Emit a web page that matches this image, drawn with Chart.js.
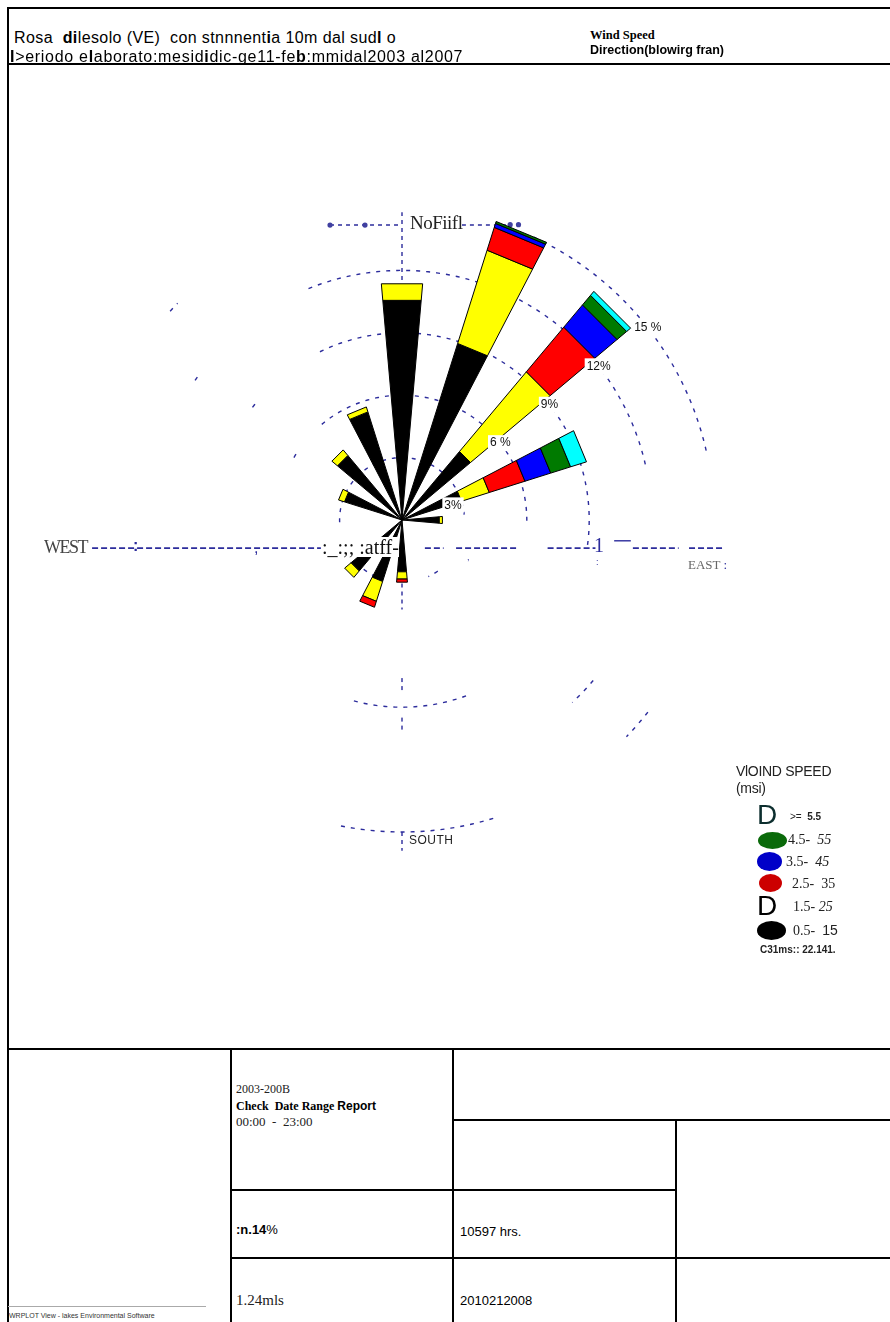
<!DOCTYPE html>
<html>
<head>
<meta charset="utf-8">
<script src="https://cdn.jsdelivr.net/npm/chart.js@4.4.1/dist/chart.umd.min.js"></script>
<style>
  body { margin: 0; background: #fff; }
  #page { position: relative; width: 890px; height: 1322px; overflow: hidden; font-family: "Liberation Sans", Arial, sans-serif; }
  #rose { position: absolute; left: 10px; top: 64px; }
  .t { position: absolute; white-space: nowrap; line-height: 1; }
  .ln { position: absolute; background: #000; }
  .serif { font-family: "Liberation Serif", "Times New Roman", serif; }
  .blue { color: #2c2c9c; }
  .ell { position: absolute; border-radius: 50%; }
</style>
</head>
<body>
<div id="page">
  <canvas id="rose" width="880" height="984"></canvas>

  <!-- frame -->
  <div class="ln" style="left:8px;top:7px;width:882px;height:2px"></div>
  <div class="ln" style="left:7px;top:7px;width:2px;height:1315px"></div>
  <div class="ln" style="left:8px;top:63px;width:882px;height:1.5px"></div>
  <div class="ln" style="left:8px;top:1048px;width:882px;height:2px"></div>
  <div class="ln" style="left:230px;top:1048px;width:2px;height:274px"></div>
  <div class="ln" style="left:452px;top:1048px;width:2px;height:274px"></div>
  <div class="ln" style="left:675px;top:1120px;width:2px;height:202px"></div>
  <div class="ln" style="left:453px;top:1119px;width:437px;height:2px"></div>
  <div class="ln" style="left:231px;top:1189px;width:445px;height:2px"></div>
  <div class="ln" style="left:231px;top:1257px;width:659px;height:2px"></div>
  <div class="ln" style="left:8px;top:1306px;width:198px;height:1px;background:#aaa"></div>

  <!-- header -->
  <div class="t" style="left:14px;top:30px;font-size:16px;letter-spacing:0.4px">Rosa &nbsp;<b>di</b>lesolo (VE) &nbsp;con stnnnent<b>i</b>a 10m dal sud<b>l</b> o</div>
  <div class="t" style="left:10px;top:49px;font-size:16px;letter-spacing:0.7px"><b>I</b>&gt;eriodo e<b>l</b>aborato:mesid<b>i</b>dic-ge11-fe<b>b</b>:mmidal2003 al2007</div>
  <div class="t serif" style="left:590px;top:29px;font-size:12.5px;font-weight:bold">Wind Speed</div>
  <div class="t" style="left:590px;top:44px;font-size:12.5px;font-weight:bold">Direction(<b>bl</b>owirg fran)</div>

  <!-- compass labels -->
  <div class="t serif" style="left:410px;top:213px;font-size:19px;color:#222;background:#fff;letter-spacing:-0.5px">NoFiifl</div>
  <div class="t serif" style="left:44px;top:538px;font-size:18px;color:#444;letter-spacing:-1.5px">WEST</div>
  <div class="t blue" style="left:133px;top:538px;font-size:16px;font-weight:bold">:</div>
  <div class="t blue" style="left:254px;top:540px;font-size:16px">,</div>
  <div class="t serif" style="left:322px;top:537px;font-size:20px;color:#111;background:#fff">:_:;; :atff-</div>
  <div class="t serif blue" style="left:594px;top:535px;font-size:20px">1</div>
  <div class="t blue" style="left:596px;top:558px;font-size:9px">:</div>
  <div class="t blue" style="left:467px;top:553px;font-size:9px">,</div>
  <div class="t serif" style="left:688px;top:558px;font-size:13px;color:#666">EAST <span style="color:#2c2c9c">:</span></div>
  <div class="t" style="left:409px;top:834px;font-size:12px;color:#222;letter-spacing:0.5px">SOUTH</div>

  <!-- legend -->
  <div class="t" style="left:736px;top:764px;font-size:14px;color:#222;letter-spacing:-0.3px">VlOIND SPEED</div>
  <div class="t" style="left:736px;top:781px;font-size:14px;color:#222;letter-spacing:-0.3px">(msi)</div>
  <div class="t" style="left:757px;top:801px;font-size:28px;color:#0c2e2e">D</div>
  <div class="t" style="left:790px;top:812px;font-size:10px;color:#222">&gt;= &nbsp;<b>5.5</b></div>
  <div class="ell" style="left:758px;top:832px;width:29px;height:17px;background:#0a6a0a"></div>
  <div class="t serif" style="left:788px;top:833px;font-size:14px;color:#222">4.5- &nbsp;<i>55</i></div>
  <div class="ell" style="left:757px;top:852px;width:25px;height:19px;background:#0000c8"></div>
  <div class="t serif" style="left:786px;top:855px;font-size:14px;color:#222">3.5- &nbsp;<i>45</i></div>
  <div class="ell" style="left:759px;top:874px;width:23px;height:18px;background:#cc0000"></div>
  <div class="t serif" style="left:792px;top:877px;font-size:14px;color:#222">2.5- &nbsp;35</div>
  <div class="t" style="left:757px;top:892px;font-size:28px;color:#000">D</div>
  <div class="t serif" style="left:793px;top:900px;font-size:14px;color:#222">1.5- <i>25</i></div>
  <div class="ell" style="left:757px;top:921px;width:29px;height:19px;background:#000"></div>
  <div class="t" style="left:793px;top:923px;font-size:14px;color:#222"><span class="serif">0.5- &nbsp;</span>15</div>
  <div class="t" style="left:760px;top:945px;font-size:10px;font-weight:bold;color:#222">C31ms:: 22.141.</div>

  <!-- table -->
  <div class="t serif" style="left:236px;top:1083px;font-size:12px;color:#222">2003-200B</div>
  <div class="t serif" style="left:236px;top:1100px;font-size:12px;font-weight:bold">Check &nbsp;Date Range <span style="font-family:'Liberation Sans'">Report</span></div>
  <div class="t serif" style="left:236px;top:1115px;font-size:13px;color:#222">00:00 &nbsp;- &nbsp;23:00</div>
  <div class="t" style="left:236px;top:1223px;font-size:13px"><b>:n.14</b>%</div>
  <div class="t" style="left:460px;top:1225px;font-size:13px">10597 hrs.</div>
  <div class="t serif" style="left:236px;top:1293px;font-size:15px;color:#222">1.24mls</div>
  <div class="t" style="left:460px;top:1294px;font-size:13px">2010212008</div>
  <div class="t" style="left:9px;top:1312px;font-size:7px;color:#333">WRPLOT View - lakes Environmental Software</div>
</div>

<script>
// directions clockwise from north
const directions = ['N', 'NNE', 'NE', 'ENE', 'E', 'ESE', 'SE', 'SSE', 'S', 'SSW', 'SW', 'WSW', 'W', 'WNW', 'NW', 'NNW'];
const speedClasses = ['0.5 - 1.5', '1.5 - 2.5', '2.5 - 3.5', '3.5 - 4.5', '4.5 - 5.5', '>= 5.5'];

// frequency (%) of each speed class, per direction
const speed0515 = [10.6, 8.9, 4.3, 3.0, 1.8, 0, 0, 0, 2.5, 3.1, 3.2, 0, 0, 2.9, 4.05, 5.45];
const speed1525 = [0.8, 4.7, 5.0, 1.4, 0.15, 0, 0, 0, 0.35, 1.0, 0.4, 0, 0, 0.3, 0.35, 0.25];
const speed2535 = [0, 1.15, 2.8, 1.8, 0, 0, 0, 0, 0.15, 0.3, 0, 0, 0, 0, 0, 0];
const speed3545 = [0, 0.2, 1.4, 1.3, 0, 0, 0, 0, 0, 0, 0, 0, 0, 0, 0, 0];
const speed4555 = [0, 0.1, 0.6, 1.0, 0, 0, 0, 0, 0, 0, 0, 0, 0, 0, 0, 0];
const speed55 = [0, 0, 0.25, 0.8, 0, 0, 0, 0, 0, 0, 0, 0, 0, 0, 0, 0];

const ringTicks = [3, 6, 9, 12, 15];
const ringLabels = ['3%', '6 %', '9%', '12%', '15 %'];

const classColors = ['#000000', '#ffff00', '#ff0000', '#0000ff', '#007a00', '#00ffff'];
const dashBlue = '#2c2c9c';
const halfWidth = 5; // degrees each side of the direction

// which parts of each ring survive on the scanned sheet (degrees from north)
const ringArcs = {
  3: [[-92, 85], [145, 155], [205, 225]],
  6: [[-60, -56], [-40, 92]],
  9: [[-53, -50], [-26, 98], [160, 196]],
  12: [[-56, -54], [-22, 20], [28, 78], [130, 137]],
  15: [[-48, -46], [25, 78], [128, 134], [163, 192]],
};

const windRose = {
  id: 'windRose',
  beforeDatasetsDraw(chart) {
    const { ctx, scales: { x, y } } = chart;
    const pt = (r, deg) => {
      const a = deg * Math.PI / 180;
      return [x.getPixelForValue(r * Math.sin(a)), y.getPixelForValue(r * Math.cos(a))];
    };
    const seg = (x0, y0, x1, y1) => {
      ctx.beginPath();
      ctx.moveTo(x.getPixelForValue(x0), y.getPixelForValue(y0));
      ctx.lineTo(x.getPixelForValue(x1), y.getPixelForValue(y1));
      ctx.stroke();
    };
    ctx.save();
    ctx.strokeStyle = dashBlue;
    ctx.lineWidth = 1.4;
    ctx.setLineDash([4, 6]);
    ringTicks.forEach(r => {
      (ringArcs[r] || []).forEach(([a0, a1]) => {
        ctx.beginPath();
        for (let a = a0; a <= a1; a += 1) {
          const [px, py] = pt(r, a);
          if (a === a0) ctx.moveTo(px, py); else ctx.lineTo(px, py);
        }
        ctx.stroke();
      });
    });
    // north axis and the flat line under the label
    ctx.setLineDash([4, 4]);
    seg(0, 0, 0, 14.8);
    seg(-3.46, 14.18, 0, 14.18);
    seg(2.88, 14.18, 5.19, 14.18);
    // south axis pieces
    seg(0, -1.9, 0, -4.3);
    seg(0, -7.6, 0, -8.3);
    seg(0, -9.5, 0, -10.1);
    seg(0, -15, 0, -15.9);
    // west-east axis (drawn a little below the centre, like the sheet)
    const ey = -1.35;
    ctx.lineWidth = 1.8;
    ctx.setLineDash([6, 3]);
    seg(-14.9, ey, -3.9, ey);
    seg(1.1, ey, 2.0, ey);
    seg(2.6, ey, 5.6, ey);
    seg(7.0, ey, 9.3, ey);
    seg(11.1, ey, 13.3, ey);
    seg(13.8, ey, 15.5, ey);
    ctx.setLineDash([]);
    ctx.lineWidth = 1.4;
    seg(10.2, ey + 0.35, 11.0, ey + 0.35);
    // dots on the north line
    ctx.fillStyle = '#4040a0';
    [[-3.46, 14.18], [-1.78, 14.18], [5.2, 14.2], [5.6, 14.2]].forEach(([dx, dy]) => {
      ctx.beginPath();
      ctx.arc(x.getPixelForValue(dx), y.getPixelForValue(dy), 2.6, 0, Math.PI * 2);
      ctx.fill();
    });
    ctx.restore();
  },
  afterDatasetsDraw(chart) {
    const { ctx, scales: { x, y } } = chart;
    const pt = (r, deg) => {
      const a = deg * Math.PI / 180;
      return [x.getPixelForValue(r * Math.sin(a)), y.getPixelForValue(r * Math.cos(a))];
    };
    ctx.save();
    ctx.lineWidth = 1;
    ctx.strokeStyle = '#000';
    chart.data.labels.forEach((dir, i) => {
      const ang = i * 22.5;
      let r0 = 0;
      chart.data.datasets.forEach(ds => {
        const v = ds.wind[i];
        if (!v) return;
        const r1 = r0 + v;
        const p = [pt(r0, ang - halfWidth), pt(r1, ang - halfWidth), pt(r1, ang + halfWidth), pt(r0, ang + halfWidth)];
        ctx.beginPath();
        ctx.moveTo(p[0][0], p[0][1]);
        p.slice(1).forEach(q => ctx.lineTo(q[0], q[1]));
        ctx.closePath();
        ctx.fillStyle = ds.backgroundColor;
        ctx.fill();
        ctx.stroke();
        r0 = r1;
      });
    });
    // ring labels with white boxes
    ctx.font = '12px "Liberation Sans", Arial, sans-serif';
    ctx.textAlign = 'center';
    ctx.textBaseline = 'middle';
    ringTicks.forEach((r, k) => {
      const ang = k === 0 ? 74 : 52;
      const [px, py] = pt(k === 0 ? r * 0.85 : r, ang);
      const w = ctx.measureText(ringLabels[k]).width + 4;
      ctx.fillStyle = '#fff';
      ctx.fillRect(px - w / 2, py - 8, w, 16);
      ctx.fillStyle = '#111';
      ctx.fillText(ringLabels[k], px, py);
    });
    ctx.restore();
  }
};

const classData = [speed0515, speed1525, speed2535, speed3545, speed4555, speed55];

new Chart(document.getElementById('rose'), {
  type: 'scatter',
  data: {
    labels: directions,
    datasets: speedClasses.map((name, k) => ({
      label: name,
      data: [],
      wind: classData[k],
      backgroundColor: classColors[k],
    })),
  },
  options: {
    responsive: false,
    animation: false,
    layout: { padding: 0 },
    plugins: { legend: { display: false }, tooltip: { enabled: false } },
    scales: {
      x: { type: 'linear', min: -392 / 20.8, max: (880 - 392) / 20.8, display: false },
      y: { type: 'linear', min: -(984 - 456) / 20.8, max: 456 / 20.8, display: false },
    },
  },
  plugins: [windRose],
});
</script>
</body>
</html>
